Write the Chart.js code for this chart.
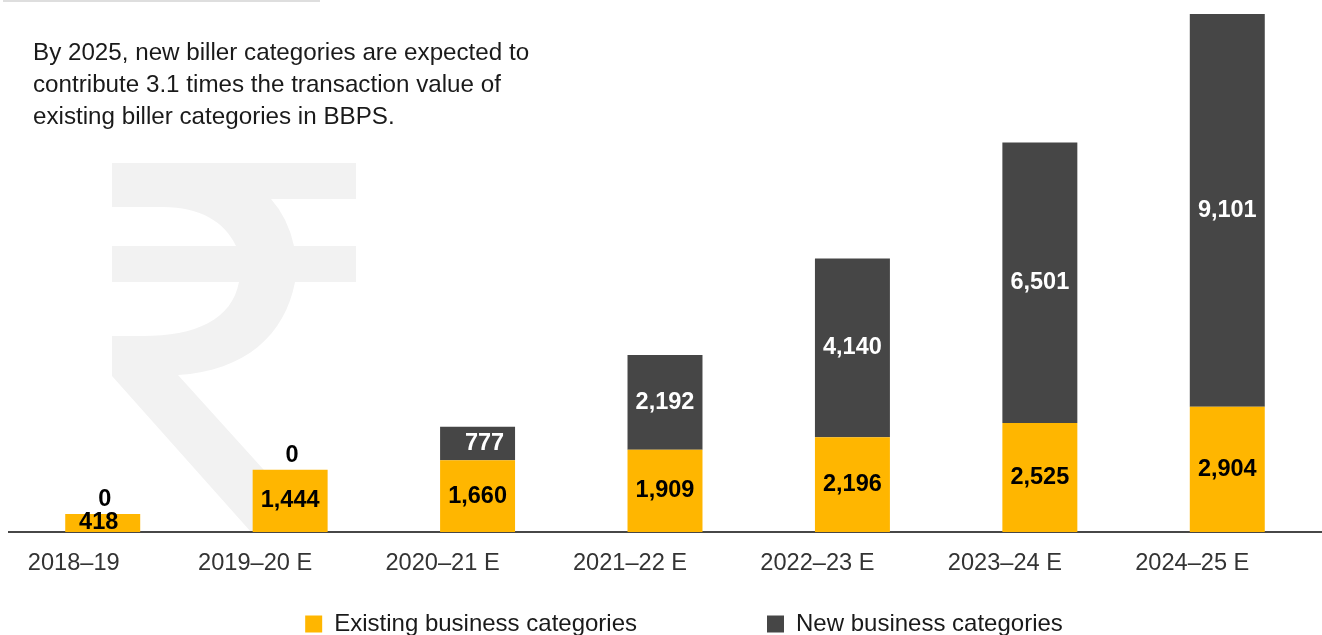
<!DOCTYPE html>
<html>
<head>
<meta charset="utf-8">
<style>html,body{margin:0;padding:0;background:#fff;overflow:hidden}canvas{display:block}</style>
<script src="https://cdn.jsdelivr.net/npm/chart.js@4"></script>
</head>
<body>
<canvas id="c" width="1322" height="635"></canvas>
<script>
const categories = ['2018–19','2019–20 E','2020–21 E','2021–22 E','2022–23 E','2023–24 E','2024–25 E'];
const existingValues = [418,1444,1660,1909,2196,2525,2904];
const newValues = [0,0,777,2192,4140,6501,9101];
const seriesNames = ['Existing business categories','New business categories'];
const noteLines = ['By 2025, new biller categories are expected to','contribute 3.1 times the transaction value of','existing biller categories in BBPS.'];
const FONT = '"Liberation Sans", Arial, sans-serif';

const backdrop = {
  id:'backdrop',
  beforeDraw(chart){
    const ctx = chart.ctx;
    ctx.save();
    ctx.fillStyle = '#dedede';
    ctx.fillRect(3,0,317,2);
    ctx.fillStyle = '#f2f2f2';
    ctx.beginPath();
    ctx.moveTo(112,163); ctx.lineTo(356,163); ctx.lineTo(356,199); ctx.lineTo(271,199);
    ctx.quadraticCurveTo(288,218,294,246);
    ctx.lineTo(356,246); ctx.lineTo(356,282); ctx.lineTo(295,282);
    ctx.bezierCurveTo(285,335,245,371,178,375);
    ctx.lineTo(320,532); ctx.lineTo(251,532); ctx.lineTo(112,376); ctx.lineTo(112,336);
    ctx.lineTo(143,336);
    ctx.bezierCurveTo(195,336,232,320,239,282);
    ctx.lineTo(112,282); ctx.lineTo(112,246); ctx.lineTo(236,246);
    ctx.bezierCurveTo(225,222,200,207,163,207);
    ctx.lineTo(112,207);
    ctx.closePath(); ctx.fill();
    ctx.fillStyle = '#1a1a1a';
    ctx.font = '24.2px '+FONT;
    ctx.textBaseline = 'alphabetic';
    ctx.textAlign = 'left';
    noteLines.forEach((t,i)=>ctx.fillText(t,33,60+i*32));
    ctx.restore();
    const items = chart.scales.x.getLabelItems();
    if(items[0] && !items[0].__moved){ items[0].options.translation[0]+=6; items[0].__moved=true; }
  }
};

const barLabels = {
  id:'barLabels',
  afterDatasetsDraw(chart){
    const ctx = chart.ctx;
    ctx.save();
    ctx.font = 'bold 23.5px '+FONT;
    ctx.textAlign = 'center';
    ctx.textBaseline = 'middle';
    const fmt = v => v.toLocaleString('en-US');
    const a = chart.getDatasetMeta(0).data, b = chart.getDatasetMeta(1).data;
    categories.forEach((_,i)=>{
      ctx.fillStyle = '#000';
      ctx.fillText(fmt(existingValues[i]), a[i].x-(i===0?4:0), (a[i].y+a[i].base)/2);
      if(newValues[i]===0){
        ctx.fillText('0', a[i].x+2, a[i].y-14);
      } else {
        ctx.fillStyle = '#fff';
        ctx.fillText(fmt(newValues[i]), b[i].x+(i===2?7:0), (b[i].y+b[i].base)/2);
      }
    });
    ctx.restore();
  }
};

const legendPlace = {
  id:'legendPlace',
  beforeLayout(chart){
    const l = chart.legend;
    if(!l.__fit){
      const fit = l.fit;
      l.fit = function(){ fit.call(this); this.height = 40; };
      l.__fit = true;
    }
  },
  afterLayout(chart){
    const l = chart.legend;
    l.left = 23; l.right = 1345; l.width = 1322; l.bottom = 635;
    l.top = 612 - l.options.labels.padding; l.height = l.bottom-l.top;
  }
};

new Chart(document.getElementById('c'),{
  type:'bar',
  data:{labels:categories,datasets:[
    {label:seriesNames[0],data:existingValues,backgroundColor:'#FFB600',barPercentage:0.4,categoryPercentage:1},
    {label:seriesNames[1],data:newValues,backgroundColor:'#464646',barPercentage:0.4,categoryPercentage:1}
  ]},
  options:{
    responsive:false,animation:false,
    layout:{padding:{top:14,left:9,right:1,bottom:0.68}},
    scales:{
      x:{stacked:true,grid:{display:false,drawTicks:false},border:{color:'#474747',width:2},
         ticks:{color:'#333',font:{family:FONT,size:23.6},padding:17,labelOffset:-35,maxRotation:0,autoSkip:false}},
      y:{stacked:true,display:false,min:0,max:12005}
    },
    plugins:{
      title:{display:false},
      tooltip:{enabled:false},
      legend:{position:'bottom',labels:{boxWidth:17,boxHeight:17,padding:130,color:'#1a1a1a',font:{family:FONT,size:24}}}
    }
  },
  plugins:[backdrop,barLabels,legendPlace]
});
</script>
</body>
</html>
